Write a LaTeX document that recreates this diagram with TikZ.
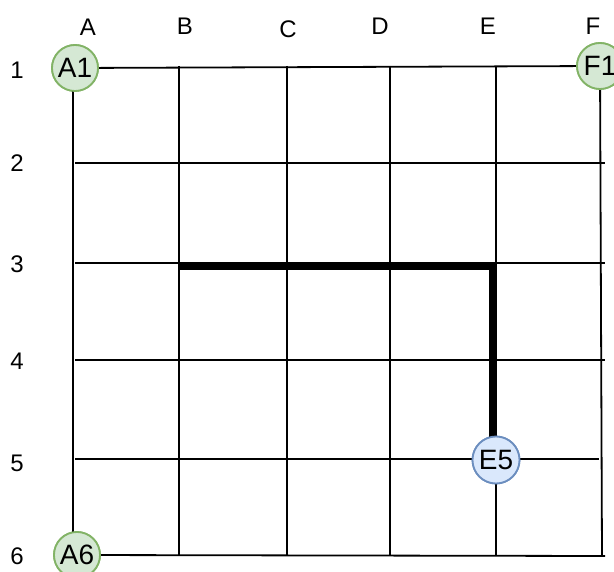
\documentclass[tikz,border=0pt]{standalone}
\usepackage{fontspec}
\setmainfont{Liberation Sans}
\definecolor{gfill}{HTML}{D5E8D4}
\definecolor{gline}{HTML}{82B366}
\definecolor{bfill}{HTML}{DAE8FC}
\definecolor{bline}{HTML}{6C8EBF}
\begin{document}
\begin{tikzpicture}[x=1pt,y=-1pt,
  gridline/.style={line width=1.8pt,black},
  pathline/.style={line width=8pt,black,line join=miter},
  lbl/.style={font=\fontsize{24}{24}\selectfont,inner sep=0pt},
  gpt/.style={circle,draw=gline,fill=gfill,line width=1.8pt,minimum size=46pt,inner sep=0pt,font=\fontsize{28}{28}\selectfont},
  bpt/.style={circle,draw=bline,fill=bfill,line width=1.8pt,minimum size=47pt,inner sep=0pt,font=\fontsize{28}{28}\selectfont}]
\useasboundingbox (0,0) rectangle (614,572);
% grid coordinates
\coordinate (B1) at (179,66); \coordinate (B6) at (179,556);
\coordinate (C1) at (287,66); \coordinate (C6) at (287,556);
\coordinate (D1) at (390,66); \coordinate (D6) at (390,556);
\coordinate (E1) at (496,66); \coordinate (E3) at (496,263); \coordinate (E6) at (496,556);
\coordinate (F6) at (602,556); \coordinate (R6) at (605,556);
\coordinate (L2) at (75,163); \coordinate (R2) at (605,163);
\coordinate (L3) at (75,263); \coordinate (R3) at (605,263);
\coordinate (L4) at (75,360); \coordinate (R4) at (605,360);
\coordinate (L5) at (75,459); \coordinate (R5) at (599,459);
\coordinate (P0) at (179,266); \coordinate (PC) at (493,266);
\coordinate (AT) at (73,90); \coordinate (AB) at (73,532);
% nodes
\node[gpt] (A1) at (75,68) {A1};
\node[gpt] (F1) at (600,66) {F1};
\node[gpt] (A6) at (77,555) {A6};
\node[bpt] (E5) at (496,460) {E5};
\coordinate (PE) at (493,438);
% grid lines
\draw[gridline] (A1) -- (F1);
\draw[gridline] (L2) -- (R2);
\draw[gridline] (L3) -- (R3);
\draw[gridline] (L4) -- (R4);
\draw[gridline] (L5) -- (R5);
\draw[gridline] (A6) -- (R6);
\draw[gridline] (AT) -- (AB);
\draw[gridline] (B1) -- (B6);
\draw[gridline] (C1) -- (C6);
\draw[gridline] (D1) -- (D6);
\draw[gridline] (E1) -- (E3);
\draw[gridline] (E5) -- (E6);
\draw[gridline] (F1) -- (F6);
\draw[pathline] (P0) -- (PC) -- (PE);
% redraw nodes on top
\node[gpt] at (A1) {A1};
\node[gpt] at (F1) {F1};
\node[gpt] at (A6) {A6};
\node[bpt] at (E5) {E5};
% labels
\node[lbl] (cA) at (88,27) {A};
\node[lbl] (cB) at (185,26) {B};
\node[lbl] (cC) at (288,29) {C};
\node[lbl] (cD) at (380,26) {D};
\node[lbl] (cE) at (488,26) {E};
\node[lbl] (cF) at (593,26) {F};
\node[lbl] (r1) at (17,70) {1};
\node[lbl] (r2) at (17,163) {2};
\node[lbl] (r3) at (17,264) {3};
\node[lbl] (r4) at (17,361) {4};
\node[lbl] (r5) at (17,463) {5};
\node[lbl] (r6) at (17,556) {6};
\end{tikzpicture}
\end{document}
